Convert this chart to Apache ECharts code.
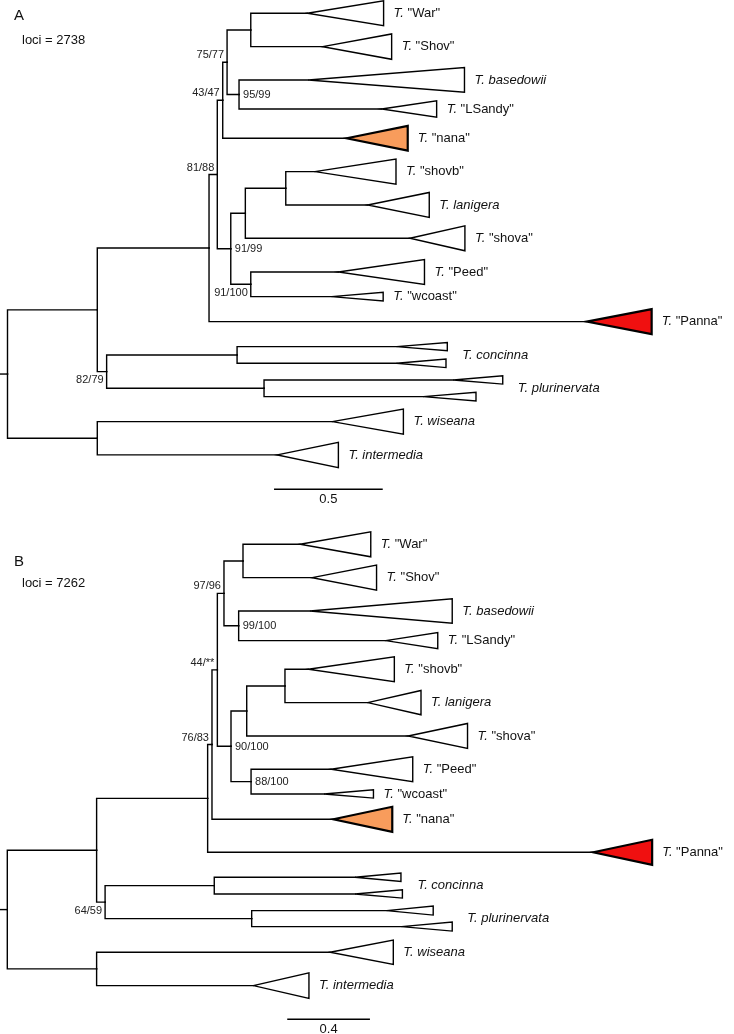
<!DOCTYPE html>
<html>
<head>
<meta charset="utf-8">
<script src="https://cdn.jsdelivr.net/npm/echarts@6/dist/echarts.min.js"></script>
<style>
  html, body { margin: 0; padding: 0; background: #ffffff; }
  #chart { width: 734px; height: 1034px; }
</style>
</head>
<body>
<div id="chart"></div>
<script>
// ---- panel A (loci = 2738) ----
// collapsed clades, top to bottom: row, start of triangle, clade depth, triangle height (rows)
const tipNamesA = ['War', 'Shov', 'basedowii', 'LSandy', 'nana', 'shovb', 'lanigera', 'shova', 'Peed', 'wcoast', 'Panna', 'concinna1', 'concinna2', 'plurinervata1', 'plurinervata2', 'wiseana', 'intermedia']
const tipRowA = [0, 1, 2, 2.87, 3.75, 4.75, 5.75, 6.75, 7.76, 8.5, 9.25, 10, 10.5, 11, 11.5, 12.25, 13.25]
const tipXA = [1.379, 1.45, 1.384, 1.721, 1.56, 1.414, 1.657, 1.851, 1.522, 1.491, 2.664, 1.79, 1.79, 2.051, 1.913, 1.494, 1.241]
const tipDepthA = [0.351, 0.317, 0.718, 0.253, 0.281, 0.373, 0.283, 0.253, 0.396, 0.237, 0.299, 0.233, 0.227, 0.227, 0.242, 0.327, 0.281]
const tipSpanA = [0.75, 0.76, 0.74, 0.49, 0.74, 0.75, 0.75, 0.75, 0.75, 0.26, 0.75, 0.25, 0.26, 0.25, 0.26, 0.75, 0.76]

// internal nodes: depth from root and children (node ids or tip names)
const nodeIdsA = ['root', 'n1', 'nP', 'a81', 'a43', 'a75', 'ws', 'a95', 'a91', 'sv', 'sl', 'a100', 'c82', 'co', 'pl', 'wi']
const nodeXA = [0, 0.413, 0.927, 0.965, 0.99, 1.01, 1.119, 1.065, 1.027, 1.094, 1.28, 1.119, 0.456, 1.056, 1.18, 0.413]
const nodeKidsA = [
  ['n1', 'wi'], ['nP', 'c82'], ['a81', 'Panna'], ['a43', 'a91'], ['a75', 'nana'], ['ws', 'a95'],
  ['War', 'Shov'], ['basedowii', 'LSandy'], ['sv', 'a100'], ['sl', 'shova'], ['shovb', 'lanigera'],
  ['Peed', 'wcoast'], ['co', 'pl'], ['concinna1', 'concinna2'], ['plurinervata1', 'plurinervata2'], ['wiseana', 'intermedia'],
]

const supportNodeA = ['a81', 'a43', 'a75', 'a95', 'a91', 'a100', 'c82']
const supportTextA = ['81/88', '43/47', '75/77', '95/99', '91/99', '91/100', '82/79']
const supportSideA = ['tl', 'tl', 'tl', 'r', 'r', 'bl', 'bl']

const cladeLabelA = ['"War"', '"Shov"', 'basedowii', '"LSandy"', '"nana"', '"shovb"', 'lanigera', '"shova"', '"Peed"', '"wcoast"', '"Panna"', 'concinna', 'plurinervata', 'wiseana', 'intermedia']
const cladeTipsA = [[0], [1], [2], [3], [4], [5], [6], [7], [8], [9], [10], [11, 12], [13, 14], [15], [16]]

// ---- panel B (loci = 7262) ----
const tipNamesB = ['War', 'Shov', 'basedowii', 'LSandy', 'shovb', 'lanigera', 'shova', 'Peed', 'wcoast', 'nana', 'Panna', 'concinna1', 'concinna2', 'plurinervata1', 'plurinervata2', 'wiseana', 'intermedia']
const tipRowB = [0, 1, 2, 2.89, 3.75, 4.75, 5.75, 6.75, 7.49, 8.25, 9.24, 9.99, 10.49, 10.99, 11.47, 12.24, 13.24]
const tipXB = [1.416, 1.475, 1.464, 1.83, 1.456, 1.743, 1.939, 1.566, 1.532, 1.577, 2.834, 1.682, 1.682, 1.835, 1.907, 1.561, 1.19]
const tipDepthB = [0.342, 0.311, 0.688, 0.252, 0.416, 0.258, 0.287, 0.395, 0.239, 0.285, 0.285, 0.222, 0.229, 0.225, 0.245, 0.306, 0.269]
const tipSpanB = [0.75, 0.75, 0.73, 0.48, 0.75, 0.73, 0.75, 0.75, 0.25, 0.75, 0.75, 0.25, 0.25, 0.27, 0.27, 0.73, 0.77]

const nodeIdsB = ['root', 'n1', 'nT', 'b76', 'b44', 'b97', 'ws', 'b99', 'b90', 'sv', 'sl', 'b88', 'c64', 'co', 'pl', 'wi']
const nodeXB = [0, 0.432, 0.969, 0.99, 1.016, 1.048, 1.14, 1.119, 1.082, 1.158, 1.343, 1.179, 0.473, 1.001, 1.182, 0.432]
const nodeKidsB = [
  ['n1', 'wi'], ['nT', 'c64'], ['b76', 'Panna'], ['b44', 'nana'], ['b97', 'b90'], ['ws', 'b99'],
  ['War', 'Shov'], ['basedowii', 'LSandy'], ['sv', 'b88'], ['sl', 'shova'], ['shovb', 'lanigera'],
  ['Peed', 'wcoast'], ['co', 'pl'], ['concinna1', 'concinna2'], ['plurinervata1', 'plurinervata2'], ['wiseana', 'intermedia'],
]

const supportNodeB = ['b97', 'b99', 'b44', 'b76', 'b90', 'b88', 'c64']
const supportTextB = ['97/96', '99/100', '44/**', '76/83', '90/100', '88/100', '64/59']
const supportSideB = ['tl', 'r', 'tl', 'tl', 'r', 'r', 'bl']

const cladeLabelB = ['"War"', '"Shov"', 'basedowii', '"LSandy"', '"shovb"', 'lanigera', '"shova"', '"Peed"', '"wcoast"', '"nana"', '"Panna"', 'concinna', 'plurinervata', 'wiseana', 'intermedia']
const cladeTipsB = [[0], [1], [2], [3], [4], [5], [6], [7], [8], [9], [10], [11, 12], [13, 14], [15], [16]]

const scaleLenA = 0.5
const scaleLenB = 0.4
const rootStub = 0.035

// ---- layout / style ----
const FONT = '"Liberation Sans", Arial, Helvetica, sans-serif'
const highlight = { nana: '#F89C5C', Panna: '#F01010' }
const ROWS = 13.25
const LW = 1.4

const panels = [
  {
    title: 'A', loci: 'loci = 2738', left: 7.5, top: 13.3, pxPerUnit: 217.4, rowPx: 33.33, xMax: 3.1,
    tipNames: tipNamesA, tipRow: tipRowA, tipX: tipXA, tipDepth: tipDepthA, tipSpan: tipSpanA,
    nodeIds: nodeIdsA, nodeX: nodeXA, nodeKids: nodeKidsA,
    supNode: supportNodeA, supText: supportTextA, supSide: supportSideA,
    cladeLabel: cladeLabelA, cladeTips: cladeTipsA,
    scaleLen: scaleLenA, scaleAt: [1.226, 14.28], titleY: 16, lociY: 40.5,
  },
  {
    title: 'B', loci: 'loci = 7262', left: 7.3, top: 544.3, pxPerUnit: 206.75, rowPx: 33.33, xMax: 3.3,
    tipNames: tipNamesB, tipRow: tipRowB, tipX: tipXB, tipDepth: tipDepthB, tipSpan: tipSpanB,
    nodeIds: nodeIdsB, nodeX: nodeXB, nodeKids: nodeKidsB,
    supNode: supportNodeB, supText: supportTextB, supSide: supportSideB,
    cladeLabel: cladeLabelB, cladeTips: cladeTipsB,
    scaleLen: scaleLenB, scaleAt: [1.354, 14.25], titleY: 561.5, lociY: 583,
  },
]

// rectangular tree layout: internal node row = midpoint of its children
const layoutTree = (p) => {
  const pos = {}
  p.tipNames.forEach((n, i) => { pos[n] = [p.tipX[i], p.tipRow[i]] })
  const place = (id) => {
    if (pos[id]) return pos[id]
    const k = p.nodeIds.indexOf(id)
    const ys = p.nodeKids[k].map((c) => place(c)[1])
    pos[id] = [p.nodeX[k], (Math.min(...ys) + Math.max(...ys)) / 2]
    return pos[id]
  }
  place('root')
  const edges = []
  p.nodeIds.forEach((id, k) => {
    p.nodeKids[k].forEach((c) => edges.push([pos[id][0], pos[id][1], pos[c][0], pos[c][1]]))
  })
  edges.push([-rootStub, pos.root[1], 0, pos.root[1]])
  return { pos, edges }
}

const series = []
const grids = []
const xAxes = []
const yAxes = []
const graphics = []

panels.forEach((p, gi) => {
  const { pos, edges } = layoutTree(p)
  grids.push({ left: p.left, top: p.top, width: p.xMax * p.pxPerUnit, height: ROWS * p.rowPx })
  xAxes.push({ gridIndex: gi, type: 'value', min: 0, max: p.xMax, show: false })
  yAxes.push({ gridIndex: gi, type: 'value', min: 0, max: ROWS, inverse: true, show: false })
  const ax = { xAxisIndex: gi, yAxisIndex: gi, coordinateSystem: 'cartesian2d', silent: true, animation: false, clip: false }

  // branches
  series.push({
    ...ax, type: 'custom', data: edges,
    renderItem: (params, api) => {
      const a = api.coord([api.value(0), api.value(1)])
      const b = api.coord([api.value(2), api.value(3)])
      return {
        type: 'polyline',
        shape: { points: [[a[0], a[1]], [a[0], b[1]], [b[0], b[1]]] },
        style: { stroke: '#000', fill: null, lineWidth: LW, lineJoin: 'miter', lineCap: 'square' },
      }
    },
  })

  // collapsed clades
  series.push({
    ...ax, type: 'custom',
    data: p.tipNames.map((n, i) => [p.tipX[i], p.tipRow[i], p.tipX[i] + p.tipDepth[i], p.tipSpan[i]]),
    renderItem: (params, api) => {
      const row = api.value(1), half = api.value(3) / 2
      const a = api.coord([api.value(0), row])
      const t = api.coord([api.value(2), row - half])
      const b = api.coord([api.value(2), row + half])
      const fill = highlight[p.tipNames[params.dataIndex]]
      return {
        type: 'polygon',
        shape: { points: [a, t, b] },
        style: { fill: fill || '#fff', stroke: '#000', lineWidth: fill ? 2.2 : LW, lineJoin: 'miter' },
      }
    },
  })

  // clade names
  series.push({
    ...ax, type: 'custom',
    data: p.cladeTips.map((tips) => {
      const right = Math.max(...tips.map((i) => p.tipX[i] + p.tipDepth[i]))
      const rows = tips.map((i) => p.tipRow[i])
      return [right, (Math.min(...rows) + Math.max(...rows)) / 2]
    }),
    renderItem: (params, api) => {
      const c = api.coord([api.value(0), api.value(1)])
      const name = p.cladeLabel[params.dataIndex]
      const group = p.cladeTips[params.dataIndex].length > 1
      const quoted = name.startsWith('"')
      return {
        type: 'text',
        x: c[0] + (group ? 15 : 10),
        y: c[1],
        style: {
          text: quoted ? `{i|T.} ${name}` : `{i|T. ${name}}`,
          fontSize: 13, fontFamily: FONT, fill: '#111',
          align: 'left', verticalAlign: 'middle', textAlign: 'left', textVerticalAlign: 'middle',
          rich: { i: { fontStyle: 'italic', fontSize: 13, fontFamily: FONT, fill: '#111' } },
        },
      }
    },
  })

  // support values
  series.push({
    ...ax, type: 'custom',
    data: p.supNode.map((id) => pos[id]),
    renderItem: (params, api) => {
      const c = api.coord([api.value(0), api.value(1)])
      const side = p.supSide[params.dataIndex]
      const dx = side === 'r' ? 4 : -3
      const dy = side === 'tl' ? -7 : side === 'bl' ? 8.5 : 0.5
      const align = side === 'r' ? 'left' : 'right'
      return {
        type: 'text', x: c[0] + dx, y: c[1] + dy,
        style: {
          text: p.supText[params.dataIndex], fontSize: 11, fontFamily: FONT, fill: '#222',
          align, verticalAlign: 'middle', textAlign: align, textVerticalAlign: 'middle',
        },
      }
    },
  })

  // scale bar
  series.push({
    ...ax, type: 'custom',
    data: [[p.scaleAt[0], p.scaleAt[1], p.scaleAt[0] + p.scaleLen]],
    renderItem: (params, api) => {
      const a = api.coord([api.value(0), api.value(1)])
      const b = api.coord([api.value(2), api.value(1)])
      return {
        type: 'group',
        children: [
          { type: 'line', shape: { x1: a[0], y1: a[1], x2: b[0], y2: b[1] }, style: { stroke: '#000', lineWidth: LW } },
          {
            type: 'text', x: (a[0] + b[0]) / 2, y: a[1] + 10,
            style: {
              text: String(p.scaleLen), fontSize: 13, fontFamily: FONT, fill: '#111',
              align: 'center', verticalAlign: 'middle', textAlign: 'center', textVerticalAlign: 'middle',
            },
          },
        ],
      }
    },
  })

  graphics.push(
    { type: 'text', x: 14, y: p.titleY, style: { text: p.title, fontSize: 15, fontFamily: FONT, fill: '#111', verticalAlign: 'middle', textVerticalAlign: 'middle' } },
    { type: 'text', x: 22, y: p.lociY, style: { text: p.loci, fontSize: 13, fontFamily: FONT, fill: '#111', verticalAlign: 'middle', textVerticalAlign: 'middle' } },
  )
})

const chart = echarts.init(document.getElementById('chart'))
chart.setOption({
  backgroundColor: '#fff',
  animation: false,
  grid: grids,
  xAxis: xAxes,
  yAxis: yAxes,
  graphic: graphics,
  series,
})
</script>
</body>
</html>
